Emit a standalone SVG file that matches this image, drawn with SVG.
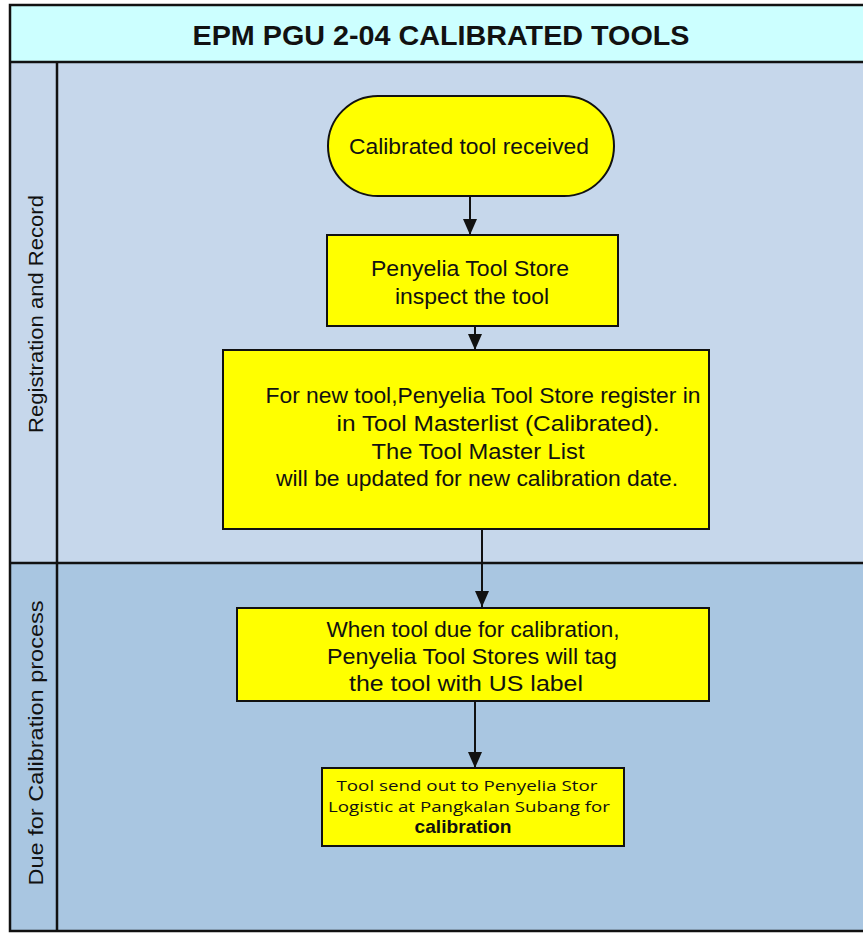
<svg xmlns="http://www.w3.org/2000/svg" width="863" height="933" viewBox="0 0 863 933">
  <style>
    .frame { fill: none; stroke: #111; stroke-width: 2.5; }
    .rule { stroke: #111; stroke-width: 2.5; }
    .node { fill: #ffff00; stroke: #111; stroke-width: 2; }
    .txt { font-family: "Liberation Sans", Arial, sans-serif; font-size: 21.5px; fill: #111; text-anchor: middle; }
    .small { font-family: "Open Sans", "Liberation Sans", sans-serif; font-size: 15px; fill: #111; text-anchor: middle; }
    .lane { font-family: "Liberation Sans", Arial, sans-serif; font-size: 20px; fill: #111; text-anchor: middle; }
    .title { font-family: "Liberation Sans", Arial, sans-serif; font-size: 28px; font-weight: bold; fill: #111; text-anchor: middle; }
    .conn { stroke: #111; stroke-width: 2; fill: none; marker-end: url(#arrow); }
  </style>
  <defs>
    <marker id="arrow" viewBox="0 0 16 14" refX="16" refY="7" markerWidth="16" markerHeight="14" markerUnits="userSpaceOnUse" orient="auto">
      <path d="M0,0 L16,7 L0,14 Z" fill="#111"/>
    </marker>
  </defs>

  <!-- page background -->
  <rect x="0" y="0" width="863" height="933" fill="#ffffff"/>

  <!-- pool: title band and two swimlanes -->
  <g id="pool">
    <rect x="10" y="5" width="860" height="57" fill="#ccffff"/>
    <rect x="10" y="62" width="860" height="501" fill="#c6d7eb"/>
    <rect x="10" y="563" width="860" height="368" fill="#a9c6e1"/>
    <rect class="frame" x="10" y="5" width="870" height="926"/>
    <line class="rule" x1="10" y1="62" x2="870" y2="62"/>
    <line class="rule" x1="10" y1="563" x2="870" y2="563"/>
    <line class="rule" x1="57" y1="62" x2="57" y2="931"/>
    <text class="title" x="441" y="45" textLength="497" lengthAdjust="spacingAndGlyphs">EPM PGU 2-04 CALIBRATED TOOLS</text>
    <text class="lane" transform="translate(43,314) rotate(-90)" textLength="238" lengthAdjust="spacingAndGlyphs">Registration and Record</text>
    <text class="lane" transform="translate(43,743) rotate(-90)" textLength="285" lengthAdjust="spacingAndGlyphs">Due for Calibration process</text>
  </g>

  <!-- connectors -->
  <g id="connectors">
    <line class="conn" x1="470" y1="196" x2="470" y2="235"/>
    <line class="conn" x1="475" y1="326" x2="475" y2="350"/>
    <line class="conn" x1="482" y1="529" x2="482" y2="607"/>
    <line class="conn" x1="475" y1="701" x2="475" y2="768"/>
  </g>

  <g id="start">
    <rect class="node" x="328" y="96" width="286" height="100" rx="50" ry="50"/>
    <text class="txt" x="469" y="154" textLength="240" lengthAdjust="spacingAndGlyphs">Calibrated tool received</text>
  </g>

  <g id="inspect">
    <rect class="node" x="327" y="235" width="291" height="91"/>
    <text class="txt" x="470" y="276" textLength="198" lengthAdjust="spacingAndGlyphs">Penyelia Tool Store</text>
    <text class="txt" x="472" y="304" textLength="154" lengthAdjust="spacingAndGlyphs">inspect the tool</text>
  </g>

  <g id="register">
    <rect class="node" x="223" y="350" width="486" height="179"/>
    <text class="txt" x="483" y="403" textLength="435" lengthAdjust="spacingAndGlyphs">For new tool,Penyelia Tool Store register in</text>
    <text class="txt" x="498" y="431" textLength="323" lengthAdjust="spacingAndGlyphs">in Tool Masterlist (Calibrated).</text>
    <text class="txt" x="478" y="459" textLength="213" lengthAdjust="spacingAndGlyphs">The Tool Master List</text>
    <text class="txt" x="477" y="486" textLength="402" lengthAdjust="spacingAndGlyphs">will be updated for new calibration date.</text>
  </g>

  <g id="tag">
    <rect class="node" x="237" y="608" width="472" height="93"/>
    <text class="txt" x="473" y="637" textLength="293" lengthAdjust="spacingAndGlyphs">When tool due for calibration,</text>
    <text class="txt" x="472" y="664" textLength="290" lengthAdjust="spacingAndGlyphs">Penyelia Tool Stores will tag</text>
    <text class="txt" x="466" y="691" textLength="234" lengthAdjust="spacingAndGlyphs">the tool with US label</text>
  </g>

  <g id="send-out">
    <rect class="node" x="322" y="768" width="302" height="78"/>
    <text class="small" x="467" y="791" textLength="261" lengthAdjust="spacingAndGlyphs">Tool send out to Penyelia Stor</text>
    <text class="small" x="469" y="812" textLength="282" lengthAdjust="spacingAndGlyphs">Logistic at Pangkalan Subang for</text>
    <text class="txt" x="463" y="833" style="font-size:18px;font-weight:bold" textLength="97" lengthAdjust="spacingAndGlyphs">calibration</text>
  </g>
</svg>
